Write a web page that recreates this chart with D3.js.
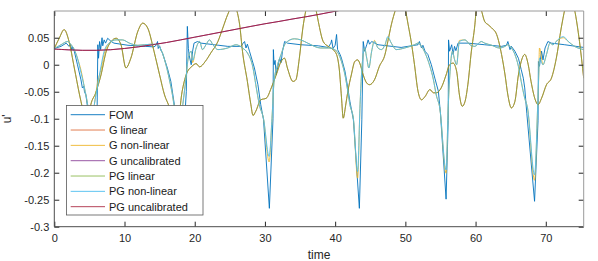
<!DOCTYPE html>
<html>
<head>
  <meta charset="utf-8">
  <title>u' over time</title>
  <script src="https://cdnjs.cloudflare.com/ajax/libs/d3/7.8.5/d3.min.js"></script>
  <style>
    body {
      margin: 0;
      background: #fff;
    }

    svg {
      font-family: "Liberation Sans", Arial, Helvetica, sans-serif;
    }

    .axis text {
      font-size: 11px;
      fill: #262626;
    }

    .axis .domain {
      display: none;
    }

    .axis .tick line {
      stroke: #262626;
    }

    .series {
      fill: none;
      stroke-width: 1;
    }

    .label {
      font-size: 12px;
      fill: #262626;
    }

    .legend text {
      font-size: 11px;
      fill: #1a1a1a;
    }
  </style>
</head>

<body>
  <div id="chart"></div>

  <script>
    // tick values
    const xTicks = [0, 10, 20, 30, 40, 50, 60, 70]
    const yTicks = [-0.3, -0.25, -0.2, -0.15, -0.1, -0.05, 0, 0.05]

    // FOM
    const fomT = [0, 0.95, 1.7, 2.1, 2.3, 2.5, 2.6, 2.85, 3.3, 3.8, 4.0, 4.2, 4.3, 4.5, 4.75, 5.2, 5.7, 6.1,
      6.2, 6.3, 6.45, 6.6, 6.8, 6.9, 7.1, 7.3, 7.6, 8.1, 8.5, 9.5, 10.5, 11.9, 13, 14.2, 14.5, 14.7, 14.8, 15.0,
      15.2, 15.4, 16.1, 16.6, 17.1, 17.5, 18.3, 18.8, 18.95, 19.1, 19.2, 19.5, 19.7, 19.9, 20.4, 20.9, 22.8, 24.7,
      26.6, 26.9, 27.1, 27.3, 27.5, 27.8, 28.5, 29.0, 29.4, 29.8, 30.63, 31.15, 31.2, 31.3, 31.45, 31.6, 31.8, 32.1,
      32.3, 32.5, 32.8, 33.2, 35.1, 37.6, 39.0, 39.4, 39.5, 39.7, 40.0, 40.2, 40.35, 40.7, 40.9, 41.4, 41.8, 42.1,
      42.6, 43.45, 43.8, 44.0, 44.2, 44.5, 44.7, 44.9, 45.2, 46.1, 49.4, 51.8, 52.0, 52.3, 52.5, 52.8, 53.2, 53.7,
      54.2, 54.7, 55.0, 55.8, 56.1, 56.15, 56.3, 56.6, 56.8, 57.0, 57.2, 57.5, 58.9, 61.3, 63.7, 64.4, 64.6, 64.9,
      65.1, 65.6, 66.1, 66.5, 66.8, 67.0, 67.3, 68.4, 68.9, 68.95, 69.1, 69.4, 69.6, 69.9, 70.3, 70.8, 72.7, 75.4
    ]
    const fomV = [0.030, 0.034, 0.040, 0.034, 0.038, 0.027, 0.033, 0.025, 0.0, -0.028, -0.043, -0.040, -0.050, -0.056,
      -0.080, -0.15, -0.15, -0.08, 0.037, 0.012, 0.043, 0.028, 0.050, 0.035, 0.046, 0.040, 0.049, 0.043, 0.040,
      0.038, 0.036, 0.035, 0.034, 0.033, 0.036, 0.043, 0.030, 0.035, 0.026, 0.022, -0.006, -0.031, -0.074, -0.16,
      -0.16, -0.05, 0.071, 0.030, 0.018, 0.0, 0.025, 0.040, 0.043, 0.040, 0.037, 0.034, 0.034, 0.040, 0.043, 0.031,
      0.038, 0.025, -0.006, -0.037, -0.074, -0.102, -0.266, -0.10, 0.028, 0.0, 0.008, -0.019, -0.006, 0.012, 0.004,
      0.025, 0.043, 0.040, 0.037, 0.035, 0.032, 0.040, 0.046, 0.030, 0.036, 0.056, 0.028, 0.019, 0.012, -0.012,
      -0.043, -0.068, -0.102, -0.266, -0.102, 0.043, 0.025, 0.037, 0.046, 0.038, 0.043, 0.037, 0.032, 0.037, 0.043,
      0.031, 0.036, 0.025, 0.019, 0.0, -0.025, -0.049, -0.09, -0.249, -0.103, 0.046, 0.025, 0.037, 0.019, 0.034,
      0.026, 0.040, 0.040, 0.037, 0.034, 0.036, 0.043, 0.028, 0.034, 0.025, 0.012, -0.009, -0.025, -0.043, -0.09,
      -0.253, -0.103, 0.006, -0.003, 0.025, 0.009, 0.031, 0.043, 0.040, 0.037, 0.032
    ]

    // G / PG linear (the two curves lie on top of each other)
    const linT = [0, 0.7, 1.4, 2.1, 2.85, 3.6, 4.0, 4.6, 5.2, 5.9, 6.65, 7.4, 8.1, 8.8, 9.5, 10.2, 10.9, 11.9, 12.6,
      13.3, 14.2, 15.0, 15.7, 16.4, 17.3, 18.2, 18.8, 19.6, 20.2, 20.7, 21.5, 22.3, 23.3, 24.0, 24.7, 25.5, 26.1,
      26.4, 26.8, 27.5, 28.0, 28.3, 28.7, 29.4, 30.2, 30.9, 31.6, 32.3, 32.8, 33.2, 34.0, 34.4, 34.9, 35.4, 35.8,
      36.6, 37.3, 37.6, 38.3, 39.0, 39.7, 40.2, 40.6, 40.9, 41.15, 41.5, 41.8, 42.3, 42.8, 43.2, 43.5, 44.0, 44.5,
      44.9, 45.6, 46.3, 47.1, 47.5, 48.0, 48.6, 49.3, 50.0, 50.4, 50.9, 51.3, 51.8, 52.3, 52.8, 53.5, 54.0, 54.4,
      55.1, 55.8, 56.3, 56.8, 57.3, 57.7, 58.1, 58.5, 58.9, 59.4, 59.9, 60.1, 60.45, 60.8, 61.3, 61.8, 62.3, 63.0,
      63.7, 64.2, 64.6, 65.1, 65.6, 66.1, 66.5, 67.0, 67.5, 67.9, 68.5, 68.9, 69.4, 70.1, 70.8, 71.5, 72.2, 72.7,
      73.4, 74.1, 74.8, 75.4
    ]
    const linV = [0.030, 0.049, 0.065, 0.043, -0.006, -0.056, -0.080, -0.12, -0.074, -0.052, -0.019, 0.025, 0.043,
      0.049, 0.037, -0.006, 0.012, 0.062, 0.077, 0.068, 0.025, -0.019, -0.056, -0.080, -0.14, -0.05, -0.018, -0.003,
      0.002, -0.004, 0.006, 0.022, 0.043, 0.068, 0.093, 0.112, 0.095, 0.074, 0.025, -0.031, -0.074, -0.094, -0.086,
      -0.065, -0.062, -0.043, -0.019, 0.006, 0.012, -0.006, -0.031, -0.028, 0.012, 0.068, 0.099, 0.13, 0.10, 0.080,
      0.043, 0.034, 0.028, 0.019, -0.010, -0.060, -0.099, -0.075, -0.050, -0.019, 0.006, 0.009, 0.003, -0.019,
      -0.034, -0.037, -0.028, -0.003, 0.019, 0.043, 0.074, 0.102, 0.125, 0.102, 0.074, 0.037, 0.000, -0.049, -0.065,
      -0.059, -0.046, -0.052, -0.052, -0.043, -0.019, 0.000, 0.003, -0.012, -0.056, -0.077, -0.068, -0.037, 0.025,
      0.074, 0.102, 0.115, 0.102, 0.080, 0.074, 0.068, 0.056, 0.019, -0.019, -0.056, -0.080, -0.068, -0.019, 0.006,
      0.019, 0.000, -0.031, -0.065, -0.074, -0.062, -0.037, -0.025, 0.012, 0.068, 0.102, 0.135, 0.102, 0.043, -0.025
    ]

    // G / PG non-linear
    const nlT = [0, 0.95, 1.9, 2.4, 2.85, 3.3, 3.8, 4.3, 4.75, 5.2, 5.7, 6.2, 6.65, 7.1, 7.8, 8.8, 9.7, 10.7, 11.9,
      13.8, 14.7, 15.2, 15.9, 16.4, 16.9, 17.1, 17.7, 18.3, 18.8, 19.0, 19.2, 19.5, 19.7, 20.2, 20.7, 21.1, 21.6,
      22.1, 22.6, 23.3, 24.7, 25.9, 26.8, 27.5, 28.3, 28.7, 29.2, 29.8, 30.6, 31.0, 31.3, 31.8, 32.3, 32.8, 33.2,
      34.2, 35.1, 36.1, 37.9, 39.0, 39.9, 40.4, 40.9, 41.4, 41.8, 42.1, 42.6, 43.2, 43.55, 43.75, 44.0, 44.2, 44.5,
      44.8, 45.2, 45.6, 46.1, 46.6, 47.1, 47.5, 48.0, 48.7, 49.9, 51.3, 51.8, 52.3, 52.8, 53.5, 54.0, 54.4, 54.9,
      55.8, 56.1, 56.4, 56.7, 57.0, 57.3, 57.7, 58.5, 59.2, 59.9, 60.8, 61.3, 62.3, 63.4, 64.2, 64.6, 65.1, 65.6,
      66.1, 66.5, 67.0, 67.4, 68.4, 68.85, 69.0, 69.1, 69.6, 70.1, 70.6, 71.0, 71.7, 72.5, 73.2, 74.1, 75.4
    ]
    const pgNlV = [0.030, 0.037, 0.043, 0.037, 0.028, 0.012, -0.015, -0.043, -0.074, -0.12, -0.074, -0.037, -0.003,
      0.025, 0.040, 0.046, 0.046, 0.040, 0.036, 0.038, 0.037, 0.028, 0.000, -0.028, -0.062, -0.080, -0.13, -0.074,
      -0.019, 0.006, 0.019, 0.025, 0.008, 0.031, 0.043, 0.028, 0.037, 0.046, 0.037, 0.028, 0.031, 0.037, 0.031,
      0.022, -0.006, -0.037, -0.074, -0.10, -0.170, -0.10, -0.031, 0.000, 0.019, 0.037, 0.043, 0.048, 0.046, 0.040,
      0.031, 0.031, 0.028, 0.022, 0.006, -0.019, -0.049, -0.074, -0.10, -0.198, -0.074, -0.019, 0.019, 0.031, 0.012,
      -0.006, 0.025, 0.043, 0.031, 0.028, 0.037, 0.052, 0.040, 0.028, 0.031, 0.037, 0.040, 0.034, 0.022, -0.003,
      -0.028, -0.056, -0.080, -0.195, -0.080, -0.006, 0.025, 0.010, 0.000, 0.043, 0.046, 0.037, 0.034, 0.043, 0.040,
      0.036, 0.031, 0.034, 0.037, 0.031, 0.019, -0.003, -0.031, -0.062, -0.080, -0.204, -0.074, -0.019, 0.012,
      0.000, 0.019, 0.040, 0.037, 0.046, 0.052, 0.043, 0.034, 0.028
    ]
    const gNlV = [0.030, 0.037, 0.043, 0.037, 0.028, 0.012, -0.010, -0.043, -0.074, -0.12, -0.074, -0.030, -0.009,
      0.020, 0.040, 0.046, 0.046, 0.040, 0.036, 0.038, 0.037, 0.028, 0.000, -0.028, -0.062, -0.080, -0.13, -0.074,
      -0.019, 0.006, 0.019, 0.025, 0.004, 0.031, 0.043, 0.028, 0.037, 0.046, 0.037, 0.028, 0.031, 0.037, 0.031,
      0.022, -0.006, -0.037, -0.074, -0.10, -0.180, -0.10, -0.031, 0.000, 0.019, 0.037, 0.043, 0.048, 0.046, 0.040,
      0.031, 0.031, 0.028, 0.022, 0.006, -0.019, -0.049, -0.074, -0.10, -0.210, -0.074, -0.019, 0.019, 0.031, 0.012,
      -0.006, 0.025, 0.045, 0.031, 0.028, 0.037, 0.050, 0.040, 0.028, 0.031, 0.037, 0.040, 0.034, 0.022, -0.003,
      -0.028, -0.056, -0.080, -0.201, -0.080, -0.006, 0.025, 0.010, 0.000, 0.045, 0.046, 0.037, 0.034, 0.043, 0.040,
      0.036, 0.031, 0.034, 0.037, 0.031, 0.019, -0.003, -0.031, -0.062, -0.080, -0.214, -0.074, -0.019, 0.031,
      0.000, 0.019, 0.040, 0.037, 0.046, 0.050, 0.043, 0.034, 0.028
    ]

    // G / PG uncalibrated (same curve)
    const uncalT = [0, 2, 4, 6, 8, 10, 12, 14, 16, 18, 20, 22, 24, 26, 28, 30, 32, 34, 36, 38, 40, 42]
    const uncalV = [0.029, 0.0275, 0.0265, 0.0265, 0.0275, 0.030, 0.033, 0.037, 0.041, 0.046, 0.051, 0.056, 0.061,
      0.066, 0.071, 0.076, 0.080, 0.085, 0.089, 0.094, 0.099, 0.104
    ]

    const series = [
      { name: 'FOM', t: fomT, v: fomV, color: '#0072BD', alpha: 0.9, curve: d3.curveLinear },
      { name: 'G linear', t: linT, v: linV, color: '#D95319', alpha: 0.75, curve: d3.curveMonotoneX },
      { name: 'G non-linear', t: nlT, v: gNlV, color: '#EDB120', alpha: 0.85, curve: d3.curveMonotoneX },
      { name: 'G uncalibrated', t: uncalT, v: uncalV, color: '#7E2F8E', alpha: 0.8, curve: d3.curveBasis },
      { name: 'PG linear', t: linT, v: linV, color: '#77AC30', alpha: 0.75, curve: d3.curveMonotoneX },
      { name: 'PG non-linear', t: nlT, v: pgNlV, color: '#4DBEEE', alpha: 0.9, curve: d3.curveMonotoneX },
      { name: 'PG uncalibrated', t: uncalT, v: uncalV, color: '#A2142F', alpha: 0.8, curve: d3.curveBasis }
    ]

    const W = 598,
      H = 261
    const plot = { left: 54.3, right: 583.7, top: 11, bottom: 226.7 }

    const svg = d3.select('#chart').append('svg')
      .attr('width', W)
      .attr('height', H)

    const x = d3.scaleLinear()
      .domain([0, 75.4])
      .range([plot.left, plot.right])

    const y = d3.scaleLinear()
      .domain([-0.3, 0.0995])
      .range([plot.bottom, plot.top])

    svg.append('clipPath')
      .attr('id', 'clip')
      .append('rect')
      .attr('x', plot.left)
      .attr('y', plot.top)
      .attr('width', plot.right - plot.left)
      .attr('height', plot.bottom - plot.top)

    // lines
    const lines = svg.append('g').attr('clip-path', 'url(#clip)')
    series.forEach(function(s) {
      const pts = s.t.map((t, i) => [t, s.v[i]])
      const line = d3.line()
        .x(d => x(d[0]))
        .y(d => y(d[1]))
        .curve(s.curve)
      lines.append('path')
        .datum(pts)
        .attr('class', 'series')
        .attr('stroke', s.color)
        .attr('stroke-opacity', s.alpha)
        .attr('d', line)
    })

    // axes, ticks point inwards on all four sides
    svg.append('g')
      .attr('class', 'axis')
      .attr('transform', `translate(0,${plot.bottom})`)
      .call(d3.axisBottom(x).tickValues(xTicks).tickSizeInner(-5).tickSizeOuter(0).tickPadding(8).tickFormat(d => String(d)))

    svg.append('g')
      .attr('class', 'axis')
      .attr('transform', `translate(${plot.left},0)`)
      .call(d3.axisLeft(y).tickValues(yTicks).tickSizeInner(-5).tickSizeOuter(0).tickPadding(5).tickFormat(d => String(d)))

    svg.append('g')
      .attr('class', 'axis')
      .attr('transform', `translate(0,${plot.top})`)
      .call(d3.axisTop(x).tickValues(xTicks).tickSizeInner(-5).tickSizeOuter(0).tickFormat(''))

    svg.append('g')
      .attr('class', 'axis')
      .attr('transform', `translate(${plot.right},0)`)
      .call(d3.axisRight(y).tickValues(yTicks).tickSizeInner(-5).tickSizeOuter(0).tickFormat(''))

    // box
    svg.append('line')
      .attr('x1', plot.left).attr('x2', plot.left)
      .attr('y1', plot.top).attr('y2', plot.bottom)
      .attr('stroke', '#4d4d4d')
    svg.append('line')
      .attr('x1', plot.left).attr('x2', plot.right)
      .attr('y1', plot.bottom).attr('y2', plot.bottom)
      .attr('stroke', '#4d4d4d')
    svg.append('line')
      .attr('x1', plot.left).attr('x2', plot.right)
      .attr('y1', plot.top).attr('y2', plot.top)
      .attr('stroke', '#9a9a9a')
    svg.append('line')
      .attr('x1', plot.right).attr('x2', plot.right)
      .attr('y1', plot.top).attr('y2', plot.bottom)
      .attr('stroke', '#9a9a9a')

    // axis titles
    svg.append('text')
      .attr('class', 'label')
      .attr('x', (plot.left + plot.right) / 2)
      .attr('y', 259)
      .attr('text-anchor', 'middle')
      .text('time')

    svg.append('text')
      .attr('class', 'label')
      .attr('transform', `translate(11,${(plot.top + plot.bottom) / 2}) rotate(-90)`)
      .attr('text-anchor', 'middle')
      .text("u'")

    // legend
    const legend = svg.append('g').attr('class', 'legend')
    legend.append('rect')
      .attr('x', 66.5)
      .attr('y', 105.5)
      .attr('width', 136.5)
      .attr('height', 109.5)
      .attr('fill', '#fff')
      .attr('stroke', '#595959')
      .attr('stroke-width', 0.8)

    const rowY = (d, i) => 114.7 + i * 15.33
    legend.selectAll('line.key')
      .data(series)
      .enter()
      .append('line')
      .attr('class', 'key')
      .attr('x1', 70.7)
      .attr('x2', 105)
      .attr('y1', rowY)
      .attr('y2', rowY)
      .attr('stroke', d => d.color)
      .attr('stroke-opacity', d => d.alpha)
    legend.selectAll('text')
      .data(series)
      .enter()
      .append('text')
      .attr('x', 109)
      .attr('y', rowY)
      .attr('dy', '0.36em')
      .text(d => d.name)
  </script>
</body>

</html>
